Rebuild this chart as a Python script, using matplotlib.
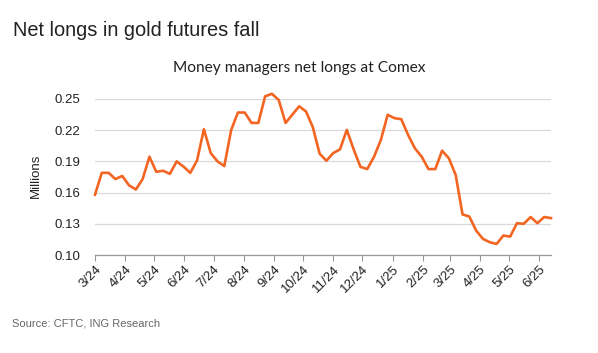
import matplotlib
matplotlib.use("Agg")
import matplotlib.pyplot as plt
import matplotlib.dates as mdates
import numpy as np
import pandas as pd

# Weekly data (Fridays) from 2024-03-01
start_date = "2024-03-01"
net_longs = [
    0.158, 0.179, 0.179, 0.173, 0.176, 0.167, 0.163, 0.173, 0.1945, 0.180,
    0.181, 0.178, 0.190, 0.185, 0.179, 0.191, 0.221, 0.198, 0.190, 0.1855,
    0.220, 0.237, 0.237, 0.227, 0.227, 0.2526, 0.255, 0.249, 0.227, 0.235,
    0.243, 0.238, 0.223, 0.1975, 0.1906, 0.198, 0.2016, 0.2203, 0.2016, 0.1848,
    0.1826, 0.1945, 0.2106, 0.2348, 0.2316, 0.2306, 0.2155, 0.2026, 0.1945, 0.1826,
    0.1826, 0.2003, 0.1929, 0.1768, 0.139, 0.137, 0.1235, 0.1155, 0.1123, 0.1106,
    0.1187, 0.1177, 0.1306, 0.130, 0.1365, 0.1306, 0.1365, 0.1355,
]
dates = pd.date_range(start_date, periods=len(net_longs), freq="7D")

month_ticks = pd.date_range("2024-03-01", "2025-06-01", freq="MS")
month_labels = [f"{d.month}/{d.strftime('%y')}" for d in month_ticks]
y_ticks = [0.10, 0.13, 0.16, 0.19, 0.22, 0.25]

title = "Net longs in gold futures fall"
subtitle = "Money managers net longs at Comex"
ylabel = "Millions"
source = "Source: CFTC, ING Research"

fig = plt.figure(figsize=(5.98, 3.53), dpi=100)
ax = fig.add_axes([95/598, 1-255/353, (551-95)/598, (255-99)/353])

ax.plot(dates, net_longs, color="#F26522", lw=1.9, solid_joinstyle="round",
        zorder=3, clip_on=False)

ax.set_ylim(0.10, 0.25)
ax.set_xlim(dates[0], dates[-1])
ax.set_yticks(y_ticks)
ax.set_yticklabels([f"{v:.2f}" for v in y_ticks], fontsize=9.5, color="#222222",
                   family="Liberation Sans")
ax.set_xticks(month_ticks)
ax.set_xticklabels(month_labels, rotation=45, ha="right", rotation_mode="anchor",
                   fontsize=9.5, color="#222222", family="Liberation Sans")
ax.tick_params(axis="y", length=0, pad=10.5)
ax.tick_params(axis="x", length=4, color="#999999", width=0.8, pad=2)
ax.grid(axis="y", color="#d9d9d9", lw=0.9)
ax.set_axisbelow(True)
for s in ["top", "right", "left"]:
    ax.spines[s].set_visible(False)
ax.spines["bottom"].set_color("#999999")
ax.spines["bottom"].set_linewidth(0.9)

fig.text(13/598, 1-31/353, title, fontsize=14.4, color="#222222", va="center",
         family="Liberation Sans")
fig.text(299/598, 1-68/353, subtitle, fontsize=11.2, color="#222222", va="center",
         ha="center", family="Lato")
fig.text(36/598, 1-176/353, ylabel, fontsize=9.5, rotation=90, va="center", ha="center",
         color="#222222", family="Liberation Sans")
fig.text(12/598, 1-323/353, source, fontsize=8, color="#666666", va="center",
         family="Liberation Sans")

fig.savefig("out.png", dpi=100)
